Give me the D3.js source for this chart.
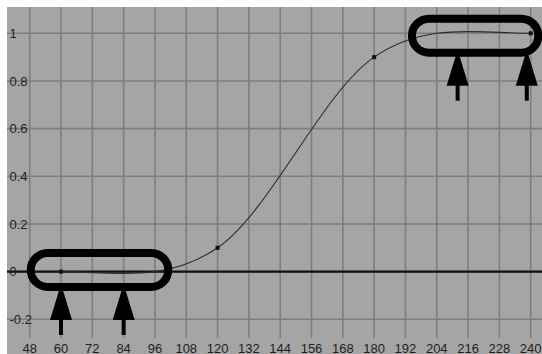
<!DOCTYPE html>
<html>
<head>
<meta charset="utf-8">
<script src="https://cdn.jsdelivr.net/npm/d3@7"></script>
<style>
  html, body { margin: 0; padding: 0; background: #ffffff; }
  svg { display: block; }
  text { font-family: "Liberation Sans", Arial, sans-serif; font-size: 13px; fill: #1e1e1e; }
</style>
</head>
<body>
<svg id="chart" width="542" height="354"></svg>
<script>
// ---- data ----
const xTicks = [48, 60, 72, 84, 96, 108, 120, 132, 144, 156, 168, 180, 192, 204, 216, 228, 240];
const yTicks = [-0.2, 0, 0.2, 0.4, 0.6, 0.8, 1];
const yTickLabels = ["-0.2", "0", "0.2", "0.4", "0.6", "0.8", "1"];
const keyFrames = [60, 120, 180, 240];
const keyValues = [0, 0.1, 0.9, 1];
// annotation ovals (frame ranges and level) and arrows (frames)
const ovalStart = [48.4, 194.5];
const ovalEnd = [101.1, 242.9];
const ovalLevel = [0.007, 0.99];
const arrowFrames = [[60, 84], [212, 238.5]];

// ---- layout ----
const W = 542, H = 354;
const svg = d3.select("#chart");
const plotLeft = 7, plotTop = 7;

const x = d3.scaleLinear().domain([48, 240]).range([29.7, 530.7]);
const y = d3.scaleLinear().domain([-0.2, 1]).range([319.3, 33.3]);

svg.append("rect").attr("x", plotLeft).attr("y", plotTop)
  .attr("width", W - plotLeft).attr("height", H - plotTop).attr("fill", "#a5a5a5");

// grid
const grid = svg.append("g");
grid.selectAll("line.v").data(xTicks).join("line")
  .attr("x1", d => x(d)).attr("x2", d => x(d))
  .attr("y1", plotTop).attr("y2", 338)
  .attr("stroke", "#7e7e7e").attr("stroke-width", 1.6);
grid.selectAll("line.h").data(yTicks).join("line")
  .attr("x1", plotLeft).attr("x2", W)
  .attr("y1", d => y(d)).attr("y2", d => y(d))
  .attr("stroke", "#7e7e7e").attr("stroke-width", 1.6);

// zero line
svg.append("line").attr("x1", plotLeft).attr("x2", W)
  .attr("y1", y(0)).attr("y2", y(0))
  .attr("stroke", "#111").attr("stroke-width", 2.2);

// axis labels
svg.append("g").selectAll("text").data(xTicks).join("text")
  .attr("x", d => x(d)).attr("y", 352.5)
  .attr("text-anchor", "middle").text(d => d);
svg.append("g").selectAll("text").data(yTicks).join("text")
  .attr("x", 9.5).attr("y", d => y(d)).attr("dy", "0.36em")
  .attr("text-anchor", "start").text((d, i) => yTickLabels[i]);

// curve: cubic Hermite through key frames, flat tangents at the ends
const n = keyFrames.length;
const tangents = keyFrames.map((f, i) => (i === 0 || i === n - 1) ? 0 :
  (keyValues[i + 1] - keyValues[i - 1]) / (keyFrames[i + 1] - keyFrames[i - 1]));
const p = d3.path();
p.moveTo(x(keyFrames[0]), y(keyValues[0]));
for (let i = 0; i < n - 1; i++) {
  const h = keyFrames[i + 1] - keyFrames[i];
  p.bezierCurveTo(
    x(keyFrames[i] + h / 3), y(keyValues[i] + tangents[i] * h / 3),
    x(keyFrames[i + 1] - h / 3), y(keyValues[i + 1] - tangents[i + 1] * h / 3),
    x(keyFrames[i + 1]), y(keyValues[i + 1]));
}
svg.append("path").attr("d", p.toString())
  .attr("fill", "none").attr("stroke", "#2a2a2a").attr("stroke-width", 1.1);

// key points
svg.append("g").selectAll("rect").data(keyFrames).join("rect")
  .attr("x", d => x(d) - 2).attr("y", (d, i) => y(keyValues[i]) - 2)
  .attr("width", 4).attr("height", 4).attr("fill", "#111");

// annotation ovals
const ovalHalf = 17;
const ann = svg.append("g");
ovalStart.forEach((s, i) => {
  const cy = y(ovalLevel[i]);
  ann.append("rect")
    .attr("x", x(s)).attr("y", cy - ovalHalf)
    .attr("width", x(ovalEnd[i]) - x(s)).attr("height", 2 * ovalHalf)
    .attr("rx", ovalHalf).attr("ry", ovalHalf)
    .attr("fill", "none").attr("stroke", "#000").attr("stroke-width", 8);
  arrowFrames[i].forEach(f => {
    const ax = x(f);
    const apex = cy + ovalHalf - 3;
    const base = cy + ovalHalf + 33;
    ann.append("path")
      .attr("d", `M${ax},${apex}L${ax + 11},${base}L${ax - 11},${base}Z`)
      .attr("fill", "#000");
    ann.append("rect").attr("x", ax - 2).attr("y", base - 1)
      .attr("width", 4).attr("height", 16).attr("fill", "#000");
  });
});
</script>
</body>
</html>
